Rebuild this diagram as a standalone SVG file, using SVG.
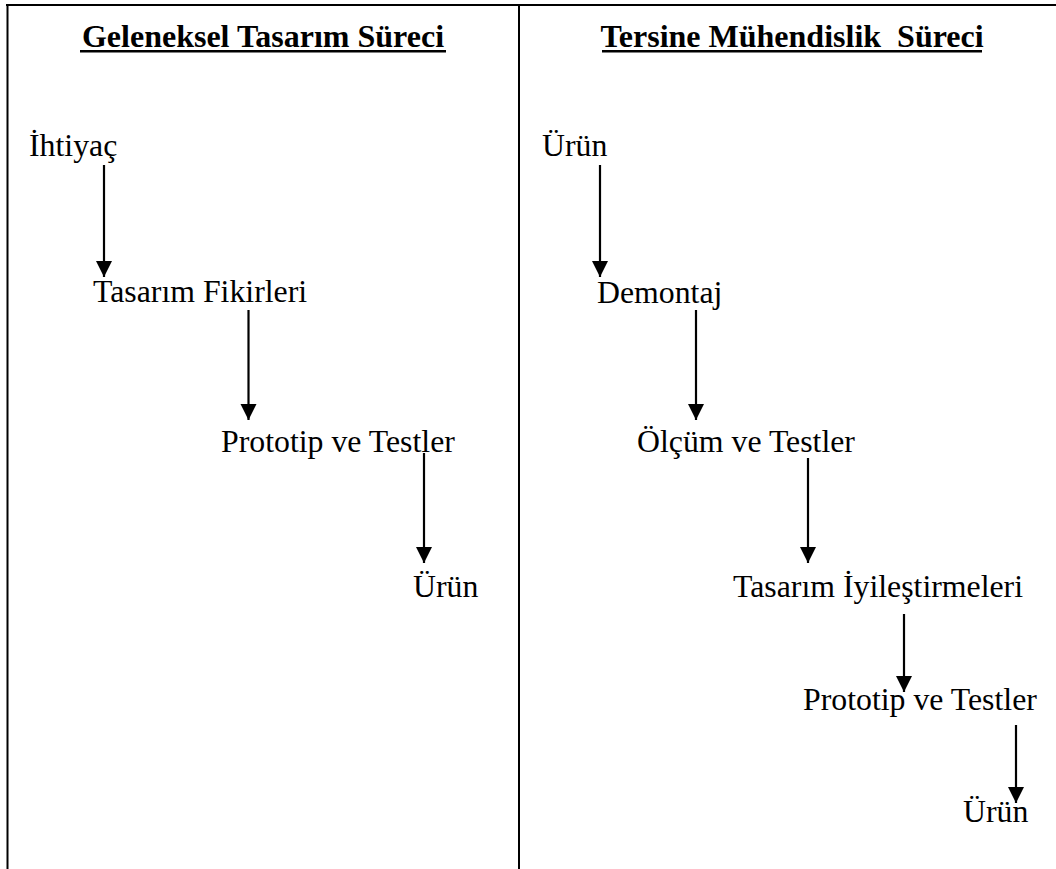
<svg xmlns="http://www.w3.org/2000/svg" width="1056" height="869" viewBox="0 0 1056 869">
  <defs>
    <!-- solid triangular arrowhead, tip at the end of the line -->
    <marker id="arrow" markerUnits="userSpaceOnUse" markerWidth="17" markerHeight="17" viewBox="0 0 17 17" refX="16" refY="8.5" orient="auto">
      <path d="M0,0.5 L16,8.5 L0,16.5 Z" fill="#000"/>
    </marker>
  </defs>
  <style>
    .title { font-family: "Liberation Serif", "Times New Roman", serif; font-size: 32px; font-weight: bold; fill: #000; }
    .label { font-family: "Liberation Serif", "Times New Roman", serif; font-size: 31.8px; fill: #000; }
    .rule { stroke: #000; stroke-width: 2; fill: none; }
    .uline { stroke: #000; stroke-width: 2.6; }
    .conn { stroke: #000; stroke-width: 2.2; fill: none; }
  </style>
  <rect width="1056" height="869" fill="#fff"/>

  <!-- table frame -->
  <g id="frame">
    <line class="rule" x1="6" y1="5" x2="1056" y2="5"/>
    <line class="rule" x1="7.5" y1="4" x2="7.5" y2="869"/>
    <line class="rule" x1="519" y1="4" x2="519" y2="869"/>
  </g>

  <!-- column headings -->
  <g id="heading-left">
    <text class="title" x="263" y="47" text-anchor="middle">Geleneksel Tasarım Süreci</text>
    <line class="uline" x1="80" y1="51.3" x2="446" y2="51.3"/>
  </g>
  <g id="heading-right">
    <text class="title" x="792" y="47" text-anchor="middle" xml:space="preserve">Tersine Mühendislik  Süreci</text>
    <line class="uline" x1="602" y1="51.3" x2="982" y2="51.3"/>
  </g>

  <!-- left column steps -->
  <g id="l-ihtiyac"><text class="label" x="29" y="156">İhtiyaç</text></g>
  <g id="l-fikir"><text class="label" x="93" y="302">Tasarım Fikirleri</text></g>
  <g id="l-prototip"><text class="label" x="221" y="452">Prototip ve Testler</text></g>
  <g id="l-urun"><text class="label" x="413" y="597">Ürün</text></g>

  <!-- right column steps -->
  <g id="r-urun"><text class="label" x="542" y="156">Ürün</text></g>
  <g id="r-demontaj"><text class="label" x="597" y="303">Demontaj</text></g>
  <g id="r-olcum"><text class="label" x="637" y="452">Ölçüm ve Testler</text></g>
  <g id="r-iyilestirme"><text class="label" x="733" y="597">Tasarım İyileştirmeleri</text></g>
  <g id="r-prototip"><text class="label" x="803" y="710">Prototip ve Testler</text></g>
  <g id="r-urun2"><text class="label" x="963" y="822">Ürün</text></g>

  <!-- connectors -->
  <g id="connectors">
    <line class="conn" x1="104" y1="165" x2="104" y2="277" marker-end="url(#arrow)"/>
    <line class="conn" x1="248.5" y1="310" x2="248.5" y2="420" marker-end="url(#arrow)"/>
    <line class="conn" x1="424" y1="453" x2="424" y2="563" marker-end="url(#arrow)"/>

    <line class="conn" x1="600" y1="165" x2="600" y2="277" marker-end="url(#arrow)"/>
    <line class="conn" x1="696" y1="310" x2="696" y2="420" marker-end="url(#arrow)"/>
    <line class="conn" x1="808" y1="458" x2="808" y2="563" marker-end="url(#arrow)"/>
    <line class="conn" x1="904" y1="614" x2="904" y2="692" marker-end="url(#arrow)"/>
    <line class="conn" x1="1016" y1="725" x2="1016" y2="803" marker-end="url(#arrow)"/>
  </g>
</svg>
